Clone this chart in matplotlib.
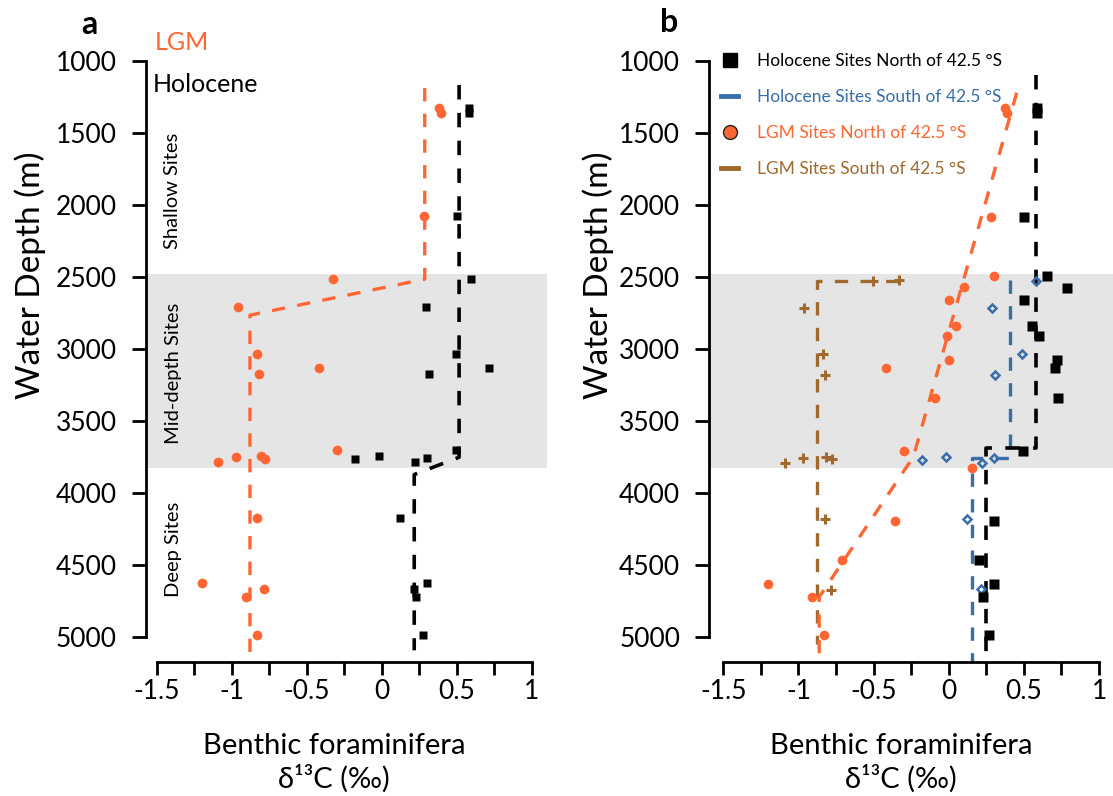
import matplotlib
matplotlib.use('Agg')
import matplotlib.pyplot as plt
from matplotlib.lines import Line2D
from matplotlib.ticker import FixedLocator, FuncFormatter
import matplotlib.transforms as mtransforms

plt.rcParams['font.family'] = ['Lato', 'DejaVu Sans']
plt.rcParams['axes.unicode_minus'] = False

ORANGE = '#FF6633'
BLUE = '#3A6EA8'
BROWN = '#A0692E'
BAND = '#E5E5E5'

# ---------------- Panel a data ----------------
a_lgm_d13c = [0.384, 0.397, 0.284, -0.327, -0.958, -0.831, -0.818, -0.416, -0.296,
              -1.089, -0.971, -0.805, -0.776, -0.829, -1.20, -0.785, -0.905, -0.829]
a_lgm_depth = [1328, 1363, 2076, 2516, 2710, 3030, 3174, 3132, 3701,
               3785, 3750, 3738, 3762, 4174, 4623, 4662, 4720, 4984]
a_hol_d13c = [0.584, 0.584, 0.504, 0.595, 0.295, 0.497, 0.717, 0.317, 0.495,
              -0.176, -0.016, 0.224, 0.304, 0.124, 0.304, 0.217, 0.227, 0.277]
a_hol_depth = [1328, 1363, 2076, 2516, 2710, 3030, 3132, 3174, 3701,
               3759, 3743, 3780, 3752, 4174, 4623, 4662, 4720, 4984]
a_lgm_line_d13c = [0.287, 0.287, -0.878, -0.878]
a_lgm_line_depth = [1188, 2514, 2764, 5104]
a_hol_line_d13c = [0.516, 0.516, 0.217, 0.217]
a_hol_line_depth = [1167, 3750, 3870, 5090]

# ---------------- Panel b data ----------------
b_holN_d13c = [0.584, 0.584, 0.50, 0.651, 0.788, 0.50, 0.552, 0.60, 0.718, 0.709,
               0.728, 0.491, 0.30, 0.203, 0.30, 0.225, 0.27]
b_holN_depth = [1328, 1363, 2081, 2491, 2572, 2660, 2840, 2908, 3076, 3134,
                3336, 3706, 4194, 4465, 4627, 4720, 4986]
b_holS_d13c = [0.58, 0.29, 0.49, 0.307, -0.18, -0.02, 0.219, 0.30, 0.119, 0.212]
b_holS_depth = [2525, 2713, 3035, 3176, 3766, 3748, 3787, 3755, 4176, 4667]
b_lgmN_d13c = [0.376, 0.389, 0.281, 0.299, 0.101, 0.0, 0.048, -0.01, 0.0, -0.42,
               -0.09, -0.30, 0.152, -0.357, -0.711, -1.20, -0.91, -0.831]
b_lgmN_depth = [1328, 1359, 2081, 2491, 2569, 2660, 2840, 2907, 3076, 3134,
                3336, 3706, 3828, 4194, 4465, 4627, 4720, 4986]
b_lgmS_d13c = [-0.503, -0.33, -0.961, -0.835, -0.822, -1.09, -0.972, -0.817, -0.779,
               -0.825, -0.785]
b_lgmS_depth = [2525, 2521, 2713, 3035, 3176, 3787, 3755, 3748, 3764, 4176, 4669]

b_holN_line_d13c = [0.583, 0.583, 0.25, 0.25]
b_holN_line_depth = [1097, 3683, 3683, 5150]
b_holS_line_d13c = [0.41, 0.41, 0.152, 0.152]
b_holS_line_depth = [2521, 3755, 3755, 5171]
b_lgmN_line_d13c = [0.452, -0.236, -0.862, -0.862]
b_lgmN_line_depth = [1220, 3748, 4720, 5171]
b_lgmS_line_d13c = [-0.33, -0.879, -0.879]
b_lgmS_line_depth = [2526, 2526, 5044]

band_depths = [2478, 3822]
x_ticks = [-1.5, -1, -0.5, 0, 0.5, 1]
x_minor = [-1.25, -0.75, -0.25, 0.25, 0.75]
y_ticks = [1000, 1500, 2000, 2500, 3000, 3500, 4000, 4500, 5000]
legend_labels = ['Holocene Sites North of 42.5 °S', 'Holocene Sites South of 42.5 °S',
                 'LGM Sites North of 42.5 °S', 'LGM Sites South of 42.5 °S']

W, H = 1113, 796
fig = plt.figure(figsize=(W / 100, H / 100), dpi=100)

def fmt(v, pos):
    return '%g' % v

def setup(ax, xmin):
    ax.set_xlim(xmin, 1.1)
    ax.set_ylim(5171, 1000)
    ax.axhspan(band_depths[0], band_depths[1], color=BAND, zorder=0, lw=0)
    for s in ['top', 'right']:
        ax.spines[s].set_visible(False)
    ax.spines['left'].set_bounds(1000, 5000)
    ax.spines['bottom'].set_bounds(-1.5, 1)
    for s in ['left', 'bottom']:
        ax.spines[s].set_linewidth(2.0)
    ax.xaxis.set_major_locator(FixedLocator(x_ticks))
    ax.xaxis.set_minor_locator(FixedLocator(x_minor))
    ax.xaxis.set_major_formatter(FuncFormatter(fmt))
    ax.yaxis.set_major_locator(FixedLocator(y_ticks))
    ax.tick_params(axis='x', which='both', direction='out', length=9, width=2.0,
                   labelsize=19, pad=3)
    ax.tick_params(axis='y', which='major', direction='out', length=10, width=2.0,
                   labelsize=19, pad=11)
    ax.set_facecolor('none')

dash = (0, (4, 3.7))

# ---------------- Panel a ----------------
axA = fig.add_axes([146 / W, 1 - 662 / H, 400.7 / W, 601 / H])
setup(axA, -1.571)
axA.plot(a_lgm_line_d13c, a_lgm_line_depth, color=ORANGE, lw=2.4, ls=dash, zorder=2)
axA.plot(a_hol_line_d13c, a_hol_line_depth, color='black', lw=2.6, ls=dash, zorder=2)
axA.plot(a_lgm_d13c, a_lgm_depth, 'o', color=ORANGE, ms=7, mec='none', zorder=3)
axA.plot(a_hol_d13c, a_hol_depth, 's', color='black', ms=6.2, mec='none', zorder=3)

tr = mtransforms.blended_transform_factory(fig.transFigure, axA.transData)
axA.text(173 / W, 1900, 'Shallow Sites', rotation=90, transform=tr, ha='center',
         va='center', fontsize=14.5)
axA.text(173 / W, 3170, 'Mid-depth Sites', rotation=90, transform=tr, ha='center',
         va='center', fontsize=14.5)
axA.text(173 / W, 4390, 'Deep Sites', rotation=90, transform=tr, ha='center',
         va='center', fontsize=14.5)

fig.text(155 / W, 1 - 43 / H, 'LGM', color=ORANGE, fontsize=18, ha='left', va='center')
fig.text(153 / W, 1 - 85 / H, 'Holocene', color='black', fontsize=18, ha='left', va='center')
fig.text(89 / W, 1 - 25 / H, 'a', fontsize=23, fontweight='bold', ha='center', va='center')
fig.text(669 / W, 1 - 23 / H, 'b', fontsize=23, fontweight='bold', ha='center', va='center')

for lx in (30, 598):
    fig.text(lx / W, 1 - 275 / H, 'Water Depth (m)', rotation=90, fontsize=24,
             ha='center', va='center')

for cx in (334, 901):
    fig.text(cx / W, 1 - 746 / H, 'Benthic foraminifera', fontsize=21, ha='center', va='center')
    fig.text(cx / W, 1 - 779 / H, 'δ¹³C (‰)', fontsize=21, ha='center', va='center')

# ---------------- Panel b ----------------
axB = fig.add_axes([709.3 / W, 1 - 662 / H, 404.8 / W, 601 / H])
setup(axB, -1.593)
axB.plot(b_lgmS_line_d13c, b_lgmS_line_depth, color=BROWN, lw=2.4, ls=dash, zorder=2)
axB.plot(b_holS_line_d13c, b_holS_line_depth, color=BLUE, lw=2.4, ls=dash, zorder=2)
axB.plot(b_holN_line_d13c, b_holN_line_depth, color='black', lw=2.6, ls=dash, zorder=2)
axB.plot(b_lgmN_line_d13c, b_lgmN_line_depth, color=ORANGE, lw=2.4, ls=dash, zorder=2)
axB.plot(b_lgmS_d13c, b_lgmS_depth, '+', color=BROWN, ms=7.5, mew=2.2, zorder=3)
axB.plot(b_holS_d13c, b_holS_depth, 'D', mfc='none', mec=BLUE, ms=4.5, mew=1.8, zorder=3)
axB.plot(b_lgmN_d13c, b_lgmN_depth, 'o', color=ORANGE, ms=7, mec='none', zorder=3)
axB.plot(b_holN_d13c, b_holN_depth, 's', color='black', ms=6.5, mec='none', zorder=3)

handles = [
    Line2D([0], [0], marker='s', color='black', ls='none', ms=10.5, mec='black'),
    Line2D([0], [0], color=BLUE, lw=3.5, ls='-'),
    Line2D([0], [0], marker='o', color=ORANGE, ls='none', ms=10, mec='#222222', mew=1.0),
    Line2D([0], [0], color=BROWN, lw=3.5, ls='-'),
]
leg = axB.legend(handles, legend_labels, loc='upper left',
                 bbox_to_anchor=(721 / W, 1 - 53 / H), bbox_transform=fig.transFigure,
                 frameon=False, fontsize=12.5, handlelength=1.0, handletextpad=1.1,
                 labelspacing=1.15, borderaxespad=0, borderpad=0)
for t, c in zip(leg.get_texts(), ['black', BLUE, ORANGE, BROWN]):
    t.set_color(c)

fig.savefig('out.png', dpi=100)
